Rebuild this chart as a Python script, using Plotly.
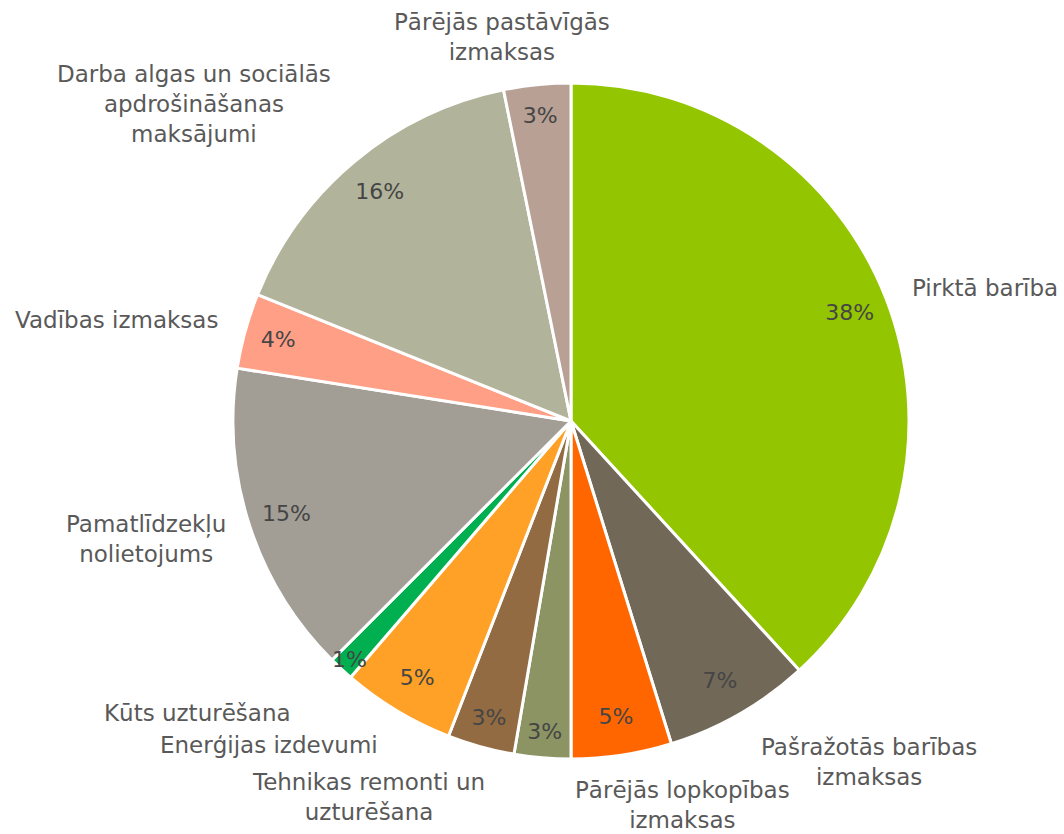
import plotly.graph_objects as go

# ---- data ----
categories = [
    "Pirktā barība",
    "Pašražotās barības<br>izmaksas",
    "Pārējās lopkopības<br>izmaksas",
    "",
    "Tehnikas remonti un<br>uzturēšana",
    "Enerģijas izdevumi",
    "Kūts uzturēšana",
    "Pamatlīdzekļu<br>nolietojums",
    "Vadības izmaksas",
    "Darba algas un sociālās<br>apdrošināšanas<br>maksājumi",
    "Pārējās pastāvīgās<br>izmaksas",
]
shares = [38.2, 7.0, 4.8, 2.7, 3.2, 5.4, 1.2, 15.0, 3.6, 15.7, 3.2]
colors = ["#93C500", "#716858", "#FF6600", "#8C9464", "#936B42", "#FFA126",
          "#00B050", "#A29D95", "#FF9F86", "#B2B39B", "#B8A094"]

# label placement (paper coords, text centre) - layout only
label_pos = [
    (985, 288), (869, 762), (682, 805), None, (368, 797), (269, 745),
    (197, 713), (146, 539), (116, 320), (194, 104), (502, 37),
]

W, H = 1064, 834
cx, cy, R = 571, 421, 338
dom = dict(x=[(cx - R) / W, (cx + R) / W], y=[1 - (cy + R) / H, 1 - (cy - R) / H])
TXT = "#595959"
FONT = "Century Gothic, DejaVu Sans, sans-serif"

ids = [f"s{i}" for i in range(len(shares))]

fig = go.Figure()
fig.add_trace(go.Pie(
    labels=ids, values=shares, sort=False, direction="clockwise", rotation=0,
    marker=dict(colors=colors, line=dict(color="white", width=3)),
    textinfo="none", hoverinfo="skip", domain=dom, showlegend=False,
))
fig.add_trace(go.Pie(
    labels=ids, values=shares, sort=False, direction="clockwise", rotation=0,
    hole=0.77,
    marker=dict(colors=["rgba(0,0,0,0)"] * len(shares), line=dict(width=0)),
    texttemplate="%{percent:.0%}", textposition="inside",
    insidetextorientation="horizontal",
    textfont=dict(family=FONT, size=22, color="#454545"),
    hoverinfo="skip", domain=dom, showlegend=False,
))

for name, pos in zip(categories, label_pos):
    if not name or pos is None:
        continue
    fig.add_annotation(
        text=name, x=pos[0] / W, y=1 - pos[1] / H, xref="paper", yref="paper",
        showarrow=False, xanchor="center", yanchor="middle", align="center",
        font=dict(family=FONT, size=23, color=TXT),
    )

fig.update_layout(
    width=W, height=H, margin=dict(l=0, r=0, t=0, b=0),
    paper_bgcolor="white", plot_bgcolor="white",
    uniformtext=dict(minsize=22, mode="show"),
)
fig.write_html("out.html")
